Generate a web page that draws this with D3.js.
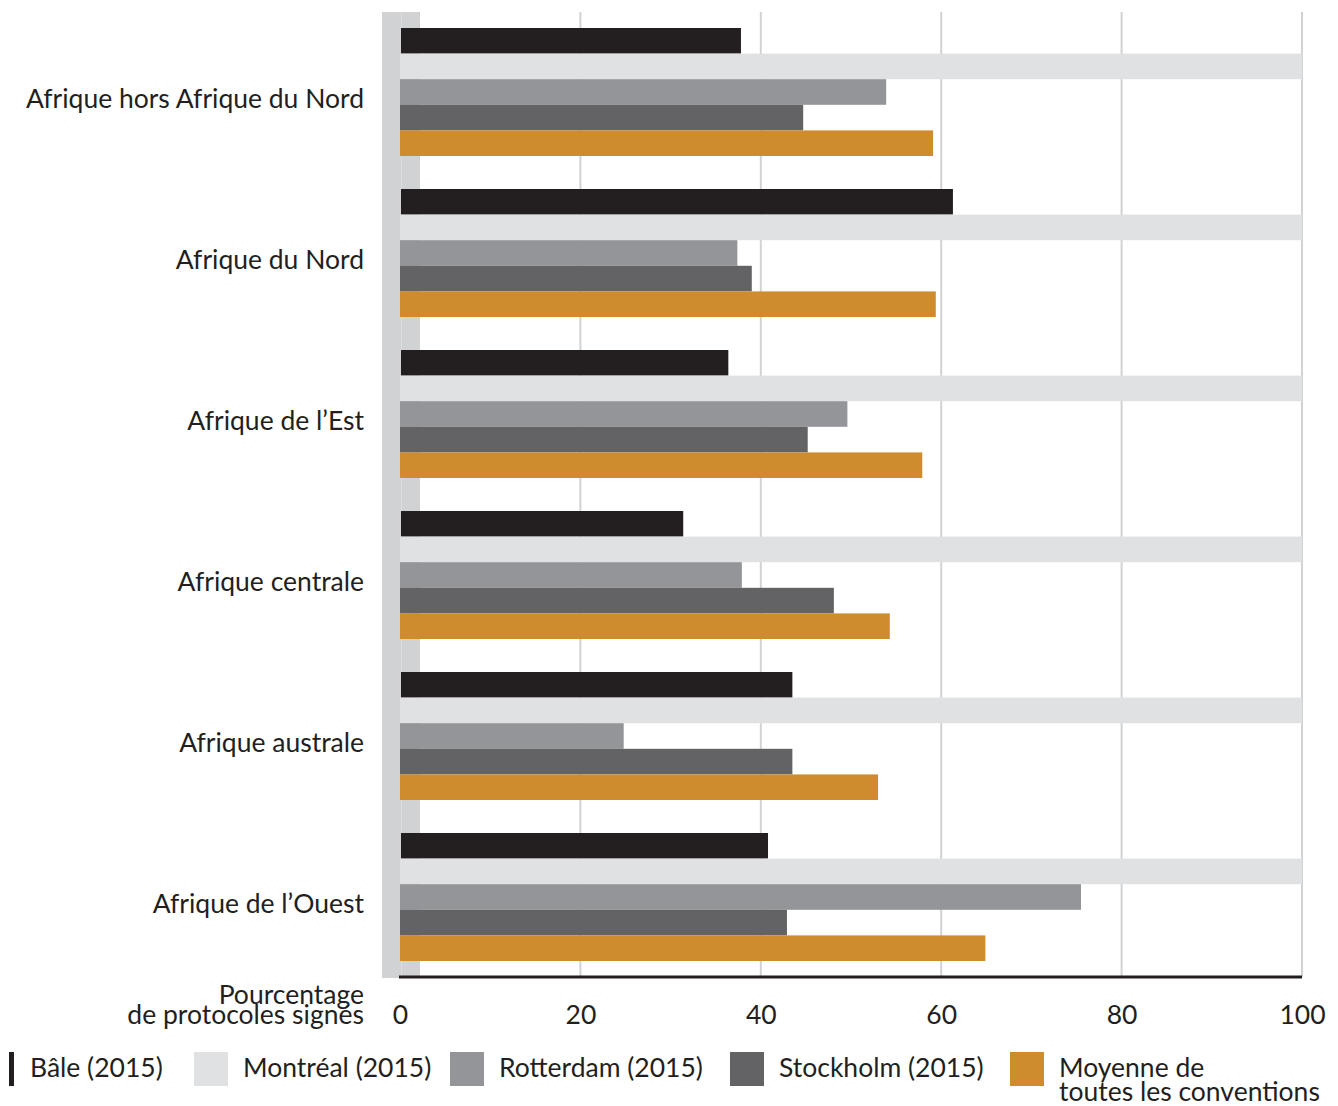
<!DOCTYPE html>
<html>
<head>
<meta charset="utf-8">
<script src="https://d3js.org/d3.v7.min.js"></script>
<style>
  body { margin: 0; background: #fff; }
  svg text { font-family: Lato, "Open Sans", sans-serif; fill: #231f20; }
</style>
</head>
<body>
<div id="chart"></div>
<script>
// regions (top to bottom)
var regions = ["Afrique hors Afrique du Nord", "Afrique du Nord", "Afrique de l\u2019Est",
               "Afrique centrale", "Afrique australe", "Afrique de l\u2019Ouest"];
var seriesNames = ["Bâle (2015)", "Montréal (2015)", "Rotterdam (2015)", "Stockholm (2015)", "Moyenne de toutes les conventions"];
var seriesColors = ["#231f20", "#e0e1e3", "#939598", "#636365", "#cf8c2c"];

// values in %, one array per series
var bale      = [37.8, 61.3, 36.4, 31.4, 43.5, 40.8];
var montreal  = [100, 100, 100, 100, 100, 100];
var rotterdam = [53.9, 37.4, 49.6, 37.9, 24.8, 75.5];
var stockholm = [44.7, 39.0, 45.2, 48.1, 43.5, 42.9];
var moyenne   = [59.1, 59.4, 57.9, 54.3, 53.0, 64.9];
var xTicks = [0, 20, 40, 60, 80, 100];

var allSeries = [bale, montreal, rotterdam, stockholm, moyenne];

var W = 1338, H = 1106;
var fs = "26.5px";
var svg = d3.select("#chart").append("svg").attr("width", W).attr("height", H);

var x = d3.scaleLinear().domain([0, 100]).range([400, 1302]);
var y0 = d3.scaleBand().domain(regions).range([28, 994]).paddingInner(0).paddingOuter(0);
var y1 = d3.scaleBand().domain(d3.range(5)).range([0, 128]);

var plotTop = 12, axisY = 977;

// grey band behind the start of bars
svg.append("rect").attr("x", 382).attr("y", plotTop).attr("width", 38).attr("height", axisY - plotTop + 1)
  .attr("fill", "#d1d2d4");
svg.append("line").attr("x1", 401.5).attr("x2", 401.5).attr("y1", plotTop).attr("y2", axisY)
  .attr("stroke", "#dcdddf").attr("stroke-width", 1);

// gridlines
svg.append("g").selectAll("line").data(xTicks.slice(1)).enter().append("line")
  .attr("x1", function(d) { return x(d); }).attr("x2", function(d) { return x(d); })
  .attr("y1", plotTop).attr("y2", axisY)
  .attr("stroke", "#d1d2d4").attr("stroke-width", 2);

// bars
var groups = svg.append("g").selectAll("g").data(regions).enter().append("g")
  .attr("transform", function(d) { return "translate(0," + y0(d) + ")"; });

groups.selectAll("rect")
  .data(function(d, i) { return allSeries.map(function(s, k) { return { k: k, v: s[i] }; }); })
  .enter().append("rect")
  .attr("x", function(d) { return d.k === 0 ? x(0) + 1 : x(0); })
  .attr("y", function(d) { return y1(d.k); })
  .attr("width", function(d) { return x(d.v) - x(0) - (d.k === 0 ? 1 : 0); })
  .attr("height", y1.bandwidth())
  .attr("fill", function(d) { return seriesColors[d.k]; });

// category labels
groups.append("text")
  .attr("x", 364).attr("y", 64 + 9)
  .attr("text-anchor", "end").attr("dominant-baseline", "middle")
  .style("font-size", fs)
  .text(function(d) { return d; });

// axis line
svg.append("line").attr("x1", x(0) - 1).attr("x2", x(100)).attr("y1", axisY).attr("y2", axisY)
  .attr("stroke", "#231f20").attr("stroke-width", 3);

// tick labels
var xAxis = svg.append("g").attr("transform", "translate(0," + axisY + ")")
  .call(d3.axisBottom(x).tickValues(xTicks).tickSize(0).tickPadding(28).tickFormat(d3.format("d")));
xAxis.select(".domain").remove();
xAxis.selectAll("text").style("font-size", fs).attr("fill", "#231f20")
  .attr("font-family", "Lato, sans-serif");

svg.append("text").attr("x", 364).attr("y", 1004).attr("text-anchor", "end")
  .style("font-size", fs).text("Pourcentage");
svg.append("text").attr("x", 364).attr("y", 1024).attr("text-anchor", "end")
  .style("font-size", fs).text("de protocoles signés");

// legend
var legendX = [9, 194, 450, 730, 1010];
var leg = svg.append("g").selectAll("g").data(seriesNames).enter().append("g")
  .attr("transform", function(d, i) { return "translate(" + legendX[i] + ",1052)"; });
leg.append("rect")
  .attr("width", function(d, i) { return i === 0 ? 5 : 34; })
  .attr("height", 34)
  .attr("fill", function(d, i) { return seriesColors[i]; });
leg.each(function(d, i) {
  var t = d3.select(this).append("text")
    .attr("x", i === 0 ? 21 : 49).attr("y", 25)
    .style("font-size", fs);
  if (i === 4) {
    t.append("tspan").attr("x", 49).attr("y", 25).text("Moyenne de");
    t.append("tspan").attr("x", 49).attr("y", 49).text("toutes les conventions");
  } else {
    t.text(d);
  }
});
</script>
</body>
</html>
